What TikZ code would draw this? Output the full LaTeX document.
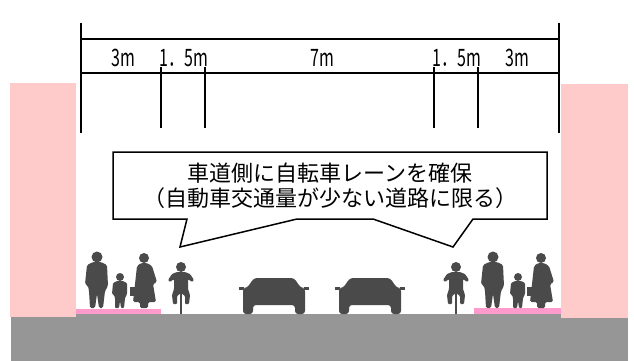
\documentclass[tikz,border=0pt]{standalone}
\usepackage{fontspec}
\newfontfamily\jp{Noto Sans CJK JP}
\usepackage{graphicx}
\usetikzlibrary{positioning}

\definecolor{sidepink}{HTML}{FFCACA}
\definecolor{walkpink}{HTML}{FF9ACC}
\definecolor{roadgray}{HTML}{969696}
\definecolor{figgray}{HTML}{4A4A4A}

\newcommand{\tallm}[1]{\scalebox{1}[1.5]{#1}}

\tikzset{
  dimline/.style={line width=1.4pt},
  dimlabel/.style={font=\jp\fontsize{16}{16}\selectfont, inner sep=0pt},
  callout/.style={draw, line width=1.5pt, fill=white},
  msgtext/.style={font=\jp\fontsize{22}{25}\selectfont, align=center, inner sep=0pt},
  % walkers, cyclists and cars, origin at the head / roof
  man/.pic={
    \fill[figgray] (0,0) circle[radius=5.5pt];
    \fill[figgray, rounded corners=1.5pt] (-4,5) -- (-10,8) -- (-12,27) -- (-9,29) -- (-8,34)
      -- (-7,51) -- (-2,51) -- (0,37) -- (2,51) -- (6,51) -- (8,34) -- (11,29) -- (10,8)
      -- (4,5) -- cycle;
  },
  child/.pic={
    \fill[figgray] (0,0) circle[radius=4pt];
    \fill[figgray, rounded corners=1pt] (-3,4) -- (-7,6) -- (-8,17) -- (-6,18) -- (-5,21)
      -- (-5,31) -- (-1,31) -- (0,24) -- (1,31) -- (4,31) -- (5,21) -- (7,17) -- (7,6)
      -- (3,4) -- cycle;
  },
  woman/.pic={
    \fill[figgray] (0,0) circle[radius=5pt];
    \fill[figgray, rounded corners=1.5pt] (-3,5) -- (-7,8) -- (-9,26) -- (-11,44) -- (-4,44)
      -- (-4,50) -- (4,50) -- (4,44) -- (12,44) -- (9,26) -- (13,24) -- (8,8) -- (3,5) -- cycle;
    \fill[figgray] (-14,29) rectangle (-8,38);
  },
  cyclist/.pic={
    \fill[figgray] (0,0) circle[radius=5pt];
    \fill[figgray, rounded corners=1pt] (-4,5) -- (-9,7) -- (-13,13) -- (-11,15) -- (-7,12)
      -- (-7,22) -- (-9,28) -- (-8,37) -- (-4,37) -- (-4,29) -- (0,26) -- (4,29) -- (4,37)
      -- (8,37) -- (9,28) -- (7,22) -- (7,12) -- (11,15) -- (13,13) -- (9,7) -- (4,5) -- cycle;
    \fill[figgray] (-1.3,22) rectangle (1.3,47);
  },
  car/.pic={
    \fill[figgray, rounded corners=3pt] (-20,0) -- (20,0) -- (27,10) -- (31,10) -- (31,36)
      -- (21,36) -- (21,27) -- (-21,27) -- (-21,36) -- (-31,36) -- (-31,10) -- (-27,10) -- cycle;
    \fill[figgray] (-35,9) rectangle (-30,12);
    \fill[figgray] (30,9) rectangle (35,12);
  }
}

\begin{document}
\begin{tikzpicture}[x=1pt, y=-1pt]
  \useasboundingbox (0,0) rectangle (634,361);

  % sidewalks and road
  \fill[roadgray] (11,314) rectangle (628,361);
  \fill[sidepink] (10,83) rectangle (76,317);
  \fill[sidepink] (561,84) rectangle (628,318);
  \fill[walkpink] (76,309) rectangle (161,314);
  \fill[walkpink] (474,308) rectangle (561,314);

  % people, bikes and cars
  \pic at (97,257) {man};
  \pic at (120,277) {child};
  \pic at (144,258) {woman};
  \pic at (181,267) {cyclist};
  \pic at (274,278) {car};
  \pic at (370,278) {car};
  \pic at (456,267) {cyclist};
  \pic at (493,257) {man};
  \pic at (518,277) {child};
  \pic at (541,258) {woman};

  % width of each lane
  \coordinate (l) at (81,23);
  \coordinate (r) at (559,23);
  \draw[dimline] (l) -- (81,133);
  \draw[dimline] (r) -- (559,133);
  \draw[dimline] (81,39) -- (559,39);
  \draw[dimline] (81,73) -- (559,73);
  \foreach \x in {161,205,434,478}
    \draw[dimline] (\x,67) -- (\x,128);

  \node[dimlabel] (w1) at (123,58) {\tallm{3m}};
  \node[dimlabel] (w2) at (184,58) {\tallm{1．5m}};
  \node[dimlabel] (w3) at (322,58) {\tallm{7m}};
  \node[dimlabel] (w4) at (457,58) {\tallm{1．5m}};
  \node[dimlabel] (w5) at (517,58) {\tallm{3m}};

  % speech bubble pointing at both bike lanes
  \draw[callout] (113,152) -- (547,152) -- (547,219) -- (473,219) -- (453,247) -- (373,219)
    -- (297,219) -- (180,247) -- (187,219) -- (113,219) -- cycle;
  \node[msgtext] (msg) at (330,186) {車道側に自転車レーンを確保\\（自動車交通量が少ない道路に限る）};
\end{tikzpicture}
\end{document}
